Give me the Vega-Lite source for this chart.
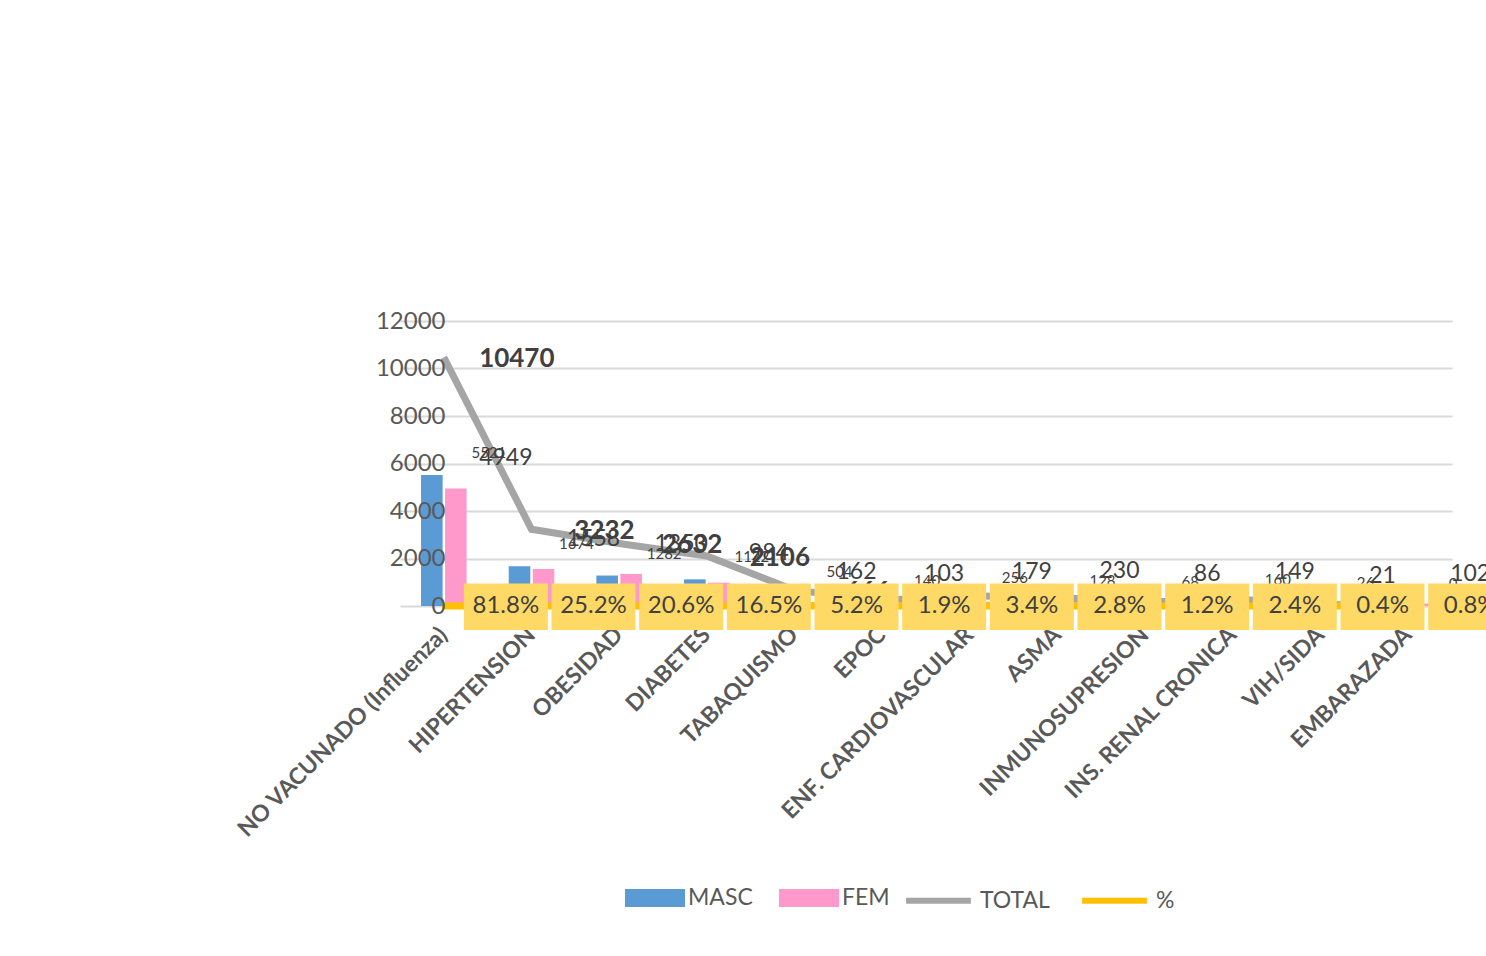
{
  "$schema": "https://vega.github.io/schema/vega-lite/v6.json",
  "width": 1052,
  "height": 285,
  "autosize": {"type": "none"},
  "padding": {"left": 400, "top": 321, "right": 34, "bottom": 350},
  "background": "white",
  "config": {
    "font": "Lato",
    "view": {"stroke": null}
  },
  "data": {
    "values": [
      {"cat": "NO VACUNADO (Influenza)", "MASC": 5521, "FEM": 4949, "TOTAL": 10470, "PCT": 0.818},
      {"cat": "HIPERTENSION", "MASC": 1674, "FEM": 1558, "TOTAL": 3232, "PCT": 0.252},
      {"cat": "OBESIDAD", "MASC": 1282, "FEM": 1350, "TOTAL": 2632, "PCT": 0.206},
      {"cat": "DIABETES", "MASC": 1122, "FEM": 984, "TOTAL": 2106, "PCT": 0.165},
      {"cat": "TABAQUISMO", "MASC": 504, "FEM": 162, "TOTAL": 666, "PCT": 0.052},
      {"cat": "EPOC", "MASC": 140, "FEM": 103, "TOTAL": 243, "PCT": 0.019},
      {"cat": "ENF. CARDIOVASCULAR", "MASC": 256, "FEM": 179, "TOTAL": 435, "PCT": 0.034},
      {"cat": "ASMA", "MASC": 128, "FEM": 230, "TOTAL": 358, "PCT": 0.028},
      {"cat": "INMUNOSUPRESION", "MASC": 68, "FEM": 86, "TOTAL": 154, "PCT": 0.012},
      {"cat": "INS. RENAL CRONICA", "MASC": 160, "FEM": 149, "TOTAL": 309, "PCT": 0.024},
      {"cat": "VIH/SIDA", "MASC": 26, "FEM": 21, "TOTAL": 47, "PCT": 0.004},
      {"cat": "EMBARAZADA", "MASC": 0, "FEM": 102, "TOTAL": 102, "PCT": 0.008}
    ]
  },
  "encoding": {
    "x": {
      "field": "cat", "type": "nominal", "sort": null,
      "scale": {"paddingInner": 0.48, "paddingOuter": 0.24},
      "axis": {
        "title": null, "domain": false, "ticks": false,
        "labelAngle": -45, "labelAlign": "right", "labelBaseline": "middle",
        "labelFontSize": 23, "labelFontWeight": "bold", "labelColor": "#595959",
        "labelPadding": 25, "labelLimit": 500
      }
    }
  },
  "layer": [
    {
      "transform": [{"fold": ["MASC", "FEM"], "as": ["serie", "valor"]}],
      "mark": {"type": "bar"},
      "encoding": {
        "xOffset": {"field": "serie", "sort": ["MASC", "FEM"], "scale": {"paddingInner": 0.1}},
        "y": {
          "field": "valor", "type": "quantitative",
          "scale": {"domain": [0, 12000], "nice": false},
          "axis": {
            "orient": "left", "title": null, "values": [0, 2000, 4000, 6000, 8000, 10000, 12000],
            "domain": false, "ticks": false, "labels": false, "grid": true, "gridColor": "#D9D9D9", "gridWidth": 2, "zindex": 0
          }
        },
        "color": {
          "field": "serie", "type": "nominal",
          "scale": {"domain": ["MASC", "FEM"], "range": ["#5B9BD5", "#FF99CC"]},
          "legend": {
            "title": null, "orient": "none", "legendX": 225, "legendY": 547, "direction": "horizontal",
            "symbolType": "M-1,-0.3H1V0.3H-1Z", "symbolSize": 3600, "symbolStrokeWidth": 0,
            "labelFontSize": 23, "labelColor": "#595959", "labelOffset": 3, "columnPadding": 26
          }
        }
      }
    },
    {
      "layer": [
        {
          "mark": {"type": "line", "strokeWidth": 7},
          "encoding": {
            "y": {"field": "TOTAL", "type": "quantitative", "axis": null},
            "color": {
              "datum": "TOTAL",
              "scale": {"domain": ["TOTAL", "%"], "range": ["#A5A5A5", "#FFC000"]},
              "legend": {
                "title": null, "orient": "none", "legendX": 503, "legendY": 544, "direction": "horizontal",
                "symbolType": "stroke", "symbolSize": 4200, "symbolStrokeWidth": 6,
                "labelFontSize": 23, "labelColor": "#595959", "labelOffset": 6, "columnPadding": 20
              }
            }
          }
        },
        {
          "mark": {"type": "line", "strokeWidth": 7},
          "encoding": {
            "y": {"field": "PCT", "type": "quantitative", "axis": null},
            "color": {"datum": "%"}
          }
        }
      ]
    },
    {
      "mark": {"type": "text", "dx": 45, "dy": -22, "fontSize": 15, "color": "#404040"},
      "encoding": {
        "y": {
          "field": "MASC", "type": "quantitative",
          "axis": {
            "orient": "left", "title": null, "values": [0, 2000, 4000, 6000, 8000, 10000, 12000], "format": "d",
            "domain": false, "ticks": false, "grid": false, "zindex": 2,
            "labelFontSize": 24, "labelColor": "#595959", "labelPadding": -45
          }
        },
        "text": {"field": "MASC", "type": "quantitative", "format": "d"}
      }
    },
    {
      "mark": {"type": "text", "dx": 62, "dy": -30, "fontSize": 23, "color": "#404040"},
      "encoding": {
        "y": {"field": "FEM", "type": "quantitative", "axis": null},
        "text": {"field": "FEM", "type": "quantitative", "format": "d"}
      }
    },
    {
      "mark": {"type": "text", "dx": 73, "dy": 2, "fontSize": 26, "fontWeight": "bold", "color": "#404040"},
      "encoding": {
        "y": {"field": "TOTAL", "type": "quantitative", "axis": null},
        "text": {"field": "TOTAL", "type": "quantitative", "format": "d"}
      }
    },
    {
      "mark": {"type": "bar", "width": 84, "xOffset": 62, "color": "#FFD966"},
      "encoding": {
        "y": {"datum": 950, "axis": null},
        "y2": {"datum": -1010}
      }
    },
    {
      "mark": {"type": "text", "dx": 62, "fontSize": 24, "color": "#404040", "baseline": "middle"},
      "encoding": {
        "y": {"field": "PCT", "type": "quantitative", "axis": null},
        "text": {"field": "PCT", "type": "quantitative", "format": ".1%"}
      }
    }
  ],
  "resolve": {"scale": {"color": "independent"}, "axis": {"y": "independent"}}
}
